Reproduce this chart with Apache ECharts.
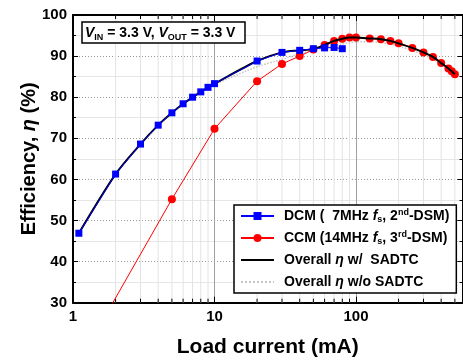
<!DOCTYPE html>
<html>
<head>
<meta charset="utf-8">
<script src="https://cdn.jsdelivr.net/npm/echarts@6/dist/echarts.min.js"></script>
<style>
  html, body { margin: 0; padding: 0; background: #fff; }
  #chart { width: 463px; height: 360px; }
</style>
</head>
<body>
<div id="chart"></div>
<script>
// DCM (7MHz fs, 2nd-DSM)
const dcmCurrent = [1.1, 2, 3, 4, 5, 6, 7, 8, 9, 10, 20, 30, 40, 50, 60, 70, 80];
const dcmEff = [46.9, 61.3, 68.6, 73.2, 76.2, 78.4, 80.0, 81.3, 82.4, 83.3, 88.8, 90.9, 91.4, 91.8, 92.0, 92.1, 91.8];

// CCM (14MHz fs, 3rd-DSM)
const ccmCurrent = [1, 5, 10, 20, 30, 40, 50, 60, 70, 80, 90, 100, 125, 150, 175, 200, 250, 300, 350, 400, 450, 475, 500];
const ccmEff = [13, 55.2, 72.3, 83.9, 88.1, 90.0, 91.6, 92.7, 93.7, 94.2, 94.5, 94.5, 94.3, 94.1, 93.7, 93.1, 92.0, 90.9, 89.8, 88.3, 87.0, 86.3, 85.6];

// overall efficiency with SADTC
const withCurrent = [1.1, 2, 3, 4, 5, 6, 7, 8, 9, 10, 20, 30, 40, 50, 60, 70, 80, 90, 100, 125, 150, 175, 200, 250, 300, 350, 400, 450, 475, 500];
const withEff = [46.9, 61.3, 68.6, 73.2, 76.2, 78.4, 80.0, 81.3, 82.4, 83.3, 88.8, 90.9, 91.4, 91.7, 92.7, 93.7, 94.2, 94.5, 94.5, 94.3, 94.1, 93.7, 93.1, 92.0, 90.9, 89.8, 88.3, 87.0, 86.3, 85.6];

// overall efficiency without SADTC
const withoutCurrent = [1.1, 2, 3, 4, 5, 6, 7, 8, 9, 10, 20, 30, 40, 50, 60, 70, 80, 90, 100, 125, 150, 175, 200, 250, 300, 350, 400, 450, 500];
const withoutEff = [46.9, 61.2, 68.5, 73.1, 76.1, 78.3, 79.9, 81.2, 82.3, 83.1, 87.4, 89.2, 90.6, 91.3, 92.0, 92.6, 93.0, 93.3, 93.5, 93.5, 93.3, 92.9, 92.4, 91.4, 90.4, 89.3, 88.0, 86.8, 85.4];

// minor log ticks / grid lines on the current axis
const minorX = [2, 3, 4, 5, 6, 7, 8, 9, 20, 30, 40, 50, 60, 70, 80, 90, 200, 300, 400, 500];
const xLabels = [1, 10, 100];

const FONT = '"Liberation Sans", Arial, sans-serif';
const zip = (xs, ys) => xs.map((x, i) => [x, ys[i]]);

const legendText = {
  'DCM': '{g|}{b|DCM (  7MHz }{i|f}{sub|s}{b|, 2}{sup|nd}{b|-DSM)}',
  'CCM': '{g|}{b|CCM (14MHz }{i|f}{sub|s}{b|, 3}{sup|rd}{b|-DSM)}',
  'Overall w': '{g|}{b|Overall }{i|η}{b| w/  SADTC}',
  'Overall wo': '{g|}{b|Overall }{i|η}{b| w/o SADTC}'
};

const base = { fontFamily: FONT, fontWeight: 'bold', color: '#000' };

const chart = echarts.init(document.getElementById('chart'));

chart.setOption({
  animation: false,
  backgroundColor: '#fff',
  grid: { left: 73, right: 0.5, top: 15, bottom: 57.3, containLabel: false, outerBoundsMode: 'none' },
  xAxis: [{
    type: 'log', min: 1, max: 566, logBase: 10,
    name: 'Load current (mA)', nameLocation: 'middle', nameGap: 34, nameMoveOverlap: false,
    nameTextStyle: Object.assign({}, base, { fontSize: 21 }),
    axisLine: { lineStyle: { color: '#000', width: 2 } },
    axisTick: { inside: true, length: 6, lineStyle: { color: '#000', width: 1 } },
    axisLabel: Object.assign({}, base, {
      fontSize: 15, margin: 7,
      formatter: v => (xLabels.indexOf(Math.round(v)) >= 0 ? String(Math.round(v)) : '')
    }),
    splitLine: { show: true, lineStyle: { color: '#a0a0a0', width: 1 } }
  }, {
    type: 'log', min: 1, max: 566, logBase: 10, position: 'top',
    axisLine: { lineStyle: { color: '#000', width: 2 } },
    axisTick: { inside: true, length: 6, lineStyle: { color: '#000', width: 1 } },
    axisLabel: { show: false },
    splitLine: { show: false }
  }],
  yAxis: [{
    type: 'value', min: 30, max: 100, interval: 10,
    name: '{b|Efficiency, }{i|η}{b| (%)}', nameLocation: 'middle', nameGap: 34, nameMoveOverlap: false,
    nameTextStyle: {
      rich: {
        b: Object.assign({}, base, { fontSize: 20 }),
        i: Object.assign({}, base, { fontSize: 20, fontStyle: 'italic' })
      }
    },
    axisLine: { lineStyle: { color: '#000', width: 2 } },
    axisTick: { inside: true, length: 5, lineStyle: { color: '#000', width: 1 } },
    minorTick: { show: true, splitNumber: 2, length: 3, lineStyle: { color: '#000', width: 1 } },
    axisLabel: Object.assign({}, base, { fontSize: 15, margin: 6 }),
    splitLine: { show: true, lineStyle: { color: '#999', width: 1, type: [1, 2] } },
    minorSplitLine: { show: true, lineStyle: { color: '#e6e6e6', width: 1 } }
  }, {
    type: 'value', min: 30, max: 100, interval: 10, position: 'right',
    axisLine: { show: true, lineStyle: { color: '#000', width: 2 } },
    axisTick: { show: true, inside: true, length: 5, lineStyle: { color: '#000', width: 1 } },
    minorTick: { show: true, splitNumber: 2, length: 3, lineStyle: { color: '#000', width: 1 } },
    axisLabel: { show: false },
    splitLine: { show: false }
  }],
  legend: {
    data: [
      { name: 'DCM' },
      { name: 'CCM' },
      { name: 'Overall w', itemStyle: { opacity: 0 } },
      { name: 'Overall wo', itemStyle: { opacity: 0 } }
    ],
    orient: 'vertical', left: 234, top: 205, z: 10,
    itemWidth: 33, itemHeight: 10, itemGap: 6,
    padding: [3, 7, 3, 6],
    backgroundColor: '#fff', borderColor: '#000', borderWidth: 1.5, borderRadius: 0,
    formatter: n => legendText[n],
    textStyle: Object.assign({}, base, {
      fontSize: 14, lineHeight: 16,
      rich: {
        g: { width: 5 },
        b: Object.assign({}, base, { fontSize: 14, lineHeight: 16 }),
        i: Object.assign({}, base, { fontSize: 14, lineHeight: 16, fontStyle: 'italic' }),
        sub: Object.assign({}, base, { fontSize: 9, lineHeight: 9, verticalAlign: 'bottom' }),
        sup: Object.assign({}, base, { fontSize: 9, lineHeight: 9, verticalAlign: 'top' })
      }
    })
  },
  graphic: [{
    type: 'rect', z: 20,
    shape: { x: 82, y: 22, width: 163, height: 21 },
    style: { fill: '#fff', stroke: '#000', lineWidth: 1.5 }
  }, {
    type: 'text', z: 21, x: 85, y: 33,
    style: {
      text: '{v|V}{s|IN}{n| = 3.3 V, }{v|V}{s|OUT}{n| = 3.3 V}',
      verticalAlign: 'middle',
      rich: {
        v: { fontFamily: FONT, fontWeight: 'bold', fontStyle: 'italic', fontSize: 14, lineHeight: 18, fill: '#000' },
        n: { fontFamily: FONT, fontWeight: 'bold', fontSize: 14, lineHeight: 18, fill: '#000' },
        s: { fontFamily: FONT, fontWeight: 'bold', fontSize: 9, lineHeight: 9, verticalAlign: 'bottom', fill: '#000' }
      }
    }
  }],
  series: [{
    type: 'custom', silent: true, z: 1,
    data: minorX.map(v => [v, 30]),
    renderItem: function (params, api) {
      const x = api.coord([api.value(0), api.value(1)])[0];
      const cs = params.coordSys;
      return {
        type: 'group',
        children: [
          { type: 'line', shape: { x1: x, y1: cs.y, x2: x, y2: cs.y + cs.height }, style: { stroke: '#e3e3e3', lineWidth: 1 } },
          { type: 'line', shape: { x1: x, y1: cs.y + cs.height, x2: x, y2: cs.y + cs.height - 4 }, style: { stroke: '#000', lineWidth: 1 } },
          { type: 'line', shape: { x1: x, y1: cs.y, x2: x, y2: cs.y + 4 }, style: { stroke: '#000', lineWidth: 1 } }
        ]
      };
    }
  }, {
    name: 'Overall wo', type: 'line', z: 2,
    data: zip(withoutCurrent, withoutEff),
    symbol: 'none', smooth: 0.3,
    itemStyle: { color: '#c4c4c4' },
    lineStyle: { color: '#c4c4c4', width: 1.5, type: 'dotted' }
  }, {
    name: 'CCM', type: 'line', z: 3,
    data: zip(ccmCurrent, ccmEff),
    symbol: 'circle', symbolSize: 8,
    itemStyle: { color: '#ff0000' },
    lineStyle: { color: '#ff0000', width: 1 }
  }, {
    name: 'Overall w', type: 'line', z: 4,
    data: zip(withCurrent, withEff),
    symbol: 'none', smooth: 0.3,
    itemStyle: { color: '#000' },
    lineStyle: { color: '#000', width: 2 }
  }, {
    name: 'DCM', type: 'line', z: 5,
    data: zip(dcmCurrent, dcmEff),
    symbol: 'rect', symbolSize: 7,
    itemStyle: { color: '#0000ff' },
    lineStyle: { color: '#0000ff', width: 1 }
  }]
});
</script>
</body>
</html>
